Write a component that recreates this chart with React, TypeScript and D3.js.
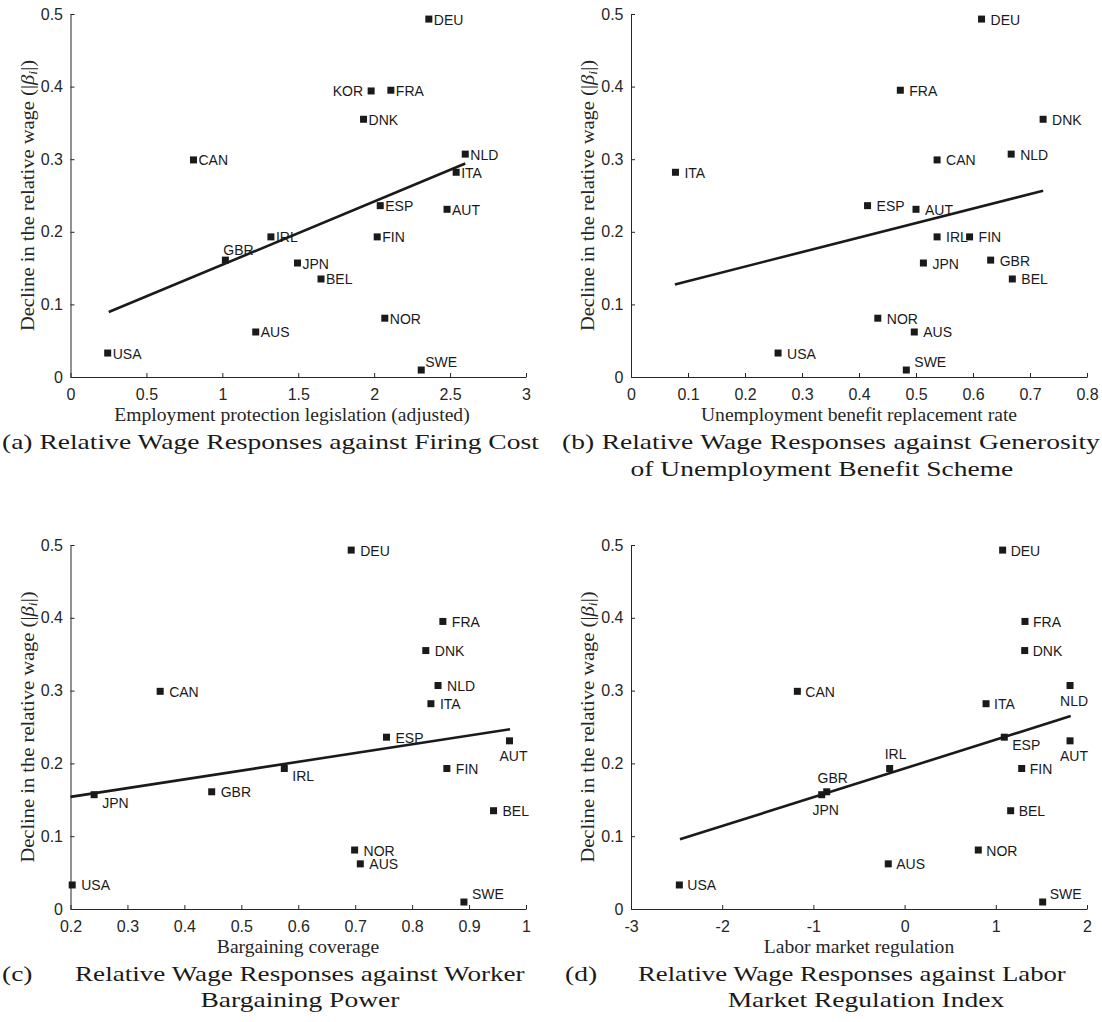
import React, { useEffect, useRef } from "react";
import * as d3 from "d3";

// countries, same order in every series (KOR only has a firing-cost value)
const countries = ["AUS", "AUT", "BEL", "CAN", "DEU", "DNK", "ESP", "FIN", "FRA", "GBR", "IRL", "ITA", "JPN", "KOR", "NLD", "NOR", "SWE", "USA"];
const wageDecline = [0.062, 0.231, 0.135, 0.299, 0.493, 0.355, 0.236, 0.193, 0.395, 0.161, 0.193, 0.282, 0.157, 0.394, 0.307, 0.081, 0.0096, 0.033];
const firingCost = [1.22, 2.48, 1.65, 0.81, 2.36, 1.93, 2.04, 2.02, 2.11, 1.02, 1.32, 2.54, 1.495, 1.98, 2.6, 2.07, 2.31, 0.245];
const benefitRate = [0.497, 0.5, 0.669, 0.537, 0.615, 0.723, 0.415, 0.594, 0.4725, 0.631, 0.537, 0.078, 0.513, null, 0.667, 0.433, 0.483, 0.258];
const bargainingCoverage = [0.709, 0.971, 0.943, 0.3575, 0.693, 0.824, 0.755, 0.861, 0.854, 0.448, 0.5755, 0.833, 0.2415, null, 0.8455, 0.699, 0.891, 0.203];
const laborRegulation = [-0.179, 1.814, 1.163, -1.176, 1.075, 1.317, 1.093, 1.284, 1.32, -0.854, -0.164, 0.893, -0.909, null, 1.814, 0.808, 1.514, -2.47];

// fitted lines (end points)
const fitFiringX = [0.252, 2.6];
const fitFiringY = [0.0895, 0.294];
const fitBenefitX = [0.077, 0.723];
const fitBenefitY = [0.1275, 0.2566];
const fitBargainX = [0.2, 0.972];
const fitBargainY = [0.154, 0.247];
const fitRegX = [-2.463, 1.821];
const fitRegY = [0.0957, 0.265];

const yTicks = [0, 0.1, 0.2, 0.3, 0.4, 0.5];
const xTicksA = [0, 0.5, 1, 1.5, 2, 2.5, 3];
const xTicksB = [0, 0.1, 0.2, 0.3, 0.4, 0.5, 0.6, 0.7, 0.8];
const xTicksC = [0.2, 0.3, 0.4, 0.5, 0.6, 0.7, 0.8, 0.9, 1];
const xTicksD = [-3, -2, -1, 0, 1, 2];

const SANS = "'Liberation Sans', Arial, Helvetica, sans-serif";
const SERIF = "'Liberation Serif', 'Times New Roman', serif";
const INK = "#1a1a1a";
const AXIS = "#262626";

const panels = [
  {
    xs: firingCost, fx: fitFiringX, fy: fitFiringY, ticks: xTicksA,
    left: 70.5, right: 526, top: 14, bottom: 377, gap: 5,
    xLabel: "Employment protection legislation (adjusted)", xLabelX: 292,
    place: { KOR: "l", GBR: "at", SWE: "ar" },
  },
  {
    xs: benefitRate, fx: fitBenefitX, fy: fitBenefitY, ticks: xTicksB,
    left: 631, right: 1087, top: 14, bottom: 377, gap: 9,
    xLabel: "Unemployment benefit replacement rate", xLabelX: 859,
    place: { SWE: "ar" },
  },
  {
    xs: bargainingCoverage, fx: fitBargainX, fy: fitBargainY, ticks: xTicksC,
    left: 70.5, right: 526, top: 545, bottom: 909, gap: 9,
    xLabel: "Bargaining coverage", xLabelX: 298,
    place: { JPN: "br", IRL: "br", AUT: "b", SWE: "ar" },
  },
  {
    xs: laborRegulation, fx: fitRegX, fy: fitRegY, ticks: xTicksD,
    left: 631, right: 1087, top: 545, bottom: 909, gap: 8,
    xLabel: "Labor market regulation", xLabelX: 859,
    place: { NLD: "b", AUT: "b", ESP: "br", IRL: "a", GBR: "a", JPN: "b", SWE: "ar" },
  },
];

// caption lines: "fit" sets the common glyph stretch, "justify" spreads words over a width
const captions = [
  { mode: "fit", x: 2, y: 449, w: 537, text: "(a) Relative Wage Responses against Firing Cost" },
  { mode: "justify", x: 562, y: 449, w: 538, text: "(b) Relative Wage Responses against Generosity" },
  { mode: "center", x: 822, y: 476, text: "of Unemployment Benefit Scheme" },
  { mode: "plain", x: 2, y: 981, text: "(c)" },
  { mode: "justify", x: 75, y: 981, w: 450, text: "Relative Wage Responses against Worker" },
  { mode: "center", x: 300, y: 1007, text: "Bargaining Power" },
  { mode: "plain", x: 565, y: 981, text: "(d)" },
  { mode: "justify", x: 638, y: 981, w: 428, text: "Relative Wage Responses against Labor" },
  { mode: "center", x: 866, y: 1007, text: "Market Regulation Index" },
];

function labelOffset(mode, gap) {
  switch (mode) {
    case "l": return { dx: -8, dy: 5.5, anchor: "end" };
    case "at": return { dx: -2, dy: -5, anchor: "start" };
    case "ar": return { dx: gap - 1, dy: -3, anchor: "start" };
    case "br": return { dx: 8, dy: 13, anchor: "start" };
    case "b": return { dx: 4, dy: 20, anchor: "middle" };
    case "a": return { dx: 6, dy: -9, anchor: "middle" };
    default: return { dx: gap, dy: 5.5, anchor: "start" };
  }
}

export default function App() {
  const svgRef = useRef(null);

  useEffect(() => {
    const svg = d3.select(svgRef.current);
    svg.selectAll("*").remove();

    panels.forEach((p) => {
      const x = d3.scaleLinear().domain([p.ticks[0], p.ticks[p.ticks.length - 1]]).range([p.left, p.right]);
      const y = d3.scaleLinear().domain([0, 0.5]).range([p.bottom, p.top]);
      const g = svg.append("g");

      const xAxis = g.append("g")
        .attr("transform", `translate(0,${p.bottom})`)
        .call(d3.axisBottom(x).tickValues(p.ticks).tickFormat((d) => String(d)).tickSizeInner(-4).tickSizeOuter(0).tickPadding(12));
      const yAxis = g.append("g")
        .attr("transform", `translate(${p.left},0)`)
        .call(d3.axisLeft(y).tickValues(yTicks).tickFormat((d) => String(d)).tickSizeInner(-4).tickSizeOuter(0).tickPadding(7.5));
      [xAxis, yAxis].forEach((a) => {
        a.select(".domain").attr("stroke", AXIS);
        a.selectAll(".tick line").attr("stroke", AXIS);
        a.selectAll("text").attr("fill", AXIS).style("font-family", SANS).style("font-size", "16px");
      });

      const pts = countries
        .map((c, i) => ({ c, xv: p.xs[i], yv: wageDecline[i] }))
        .filter((d) => d.xv !== null);

      g.selectAll("rect.pt").data(pts).enter().append("rect")
        .attr("x", (d) => x(d.xv) - 3.5)
        .attr("y", (d) => y(d.yv) - 3.5)
        .attr("width", 7)
        .attr("height", 7)
        .attr("fill", INK);

      g.selectAll("text.lbl").data(pts).enter().append("text")
        .each(function (d) {
          const o = labelOffset(p.place[d.c], p.gap);
          d3.select(this)
            .attr("x", x(d.xv) + o.dx)
            .attr("y", y(d.yv) + o.dy)
            .attr("text-anchor", o.anchor);
        })
        .style("font-family", SANS)
        .style("font-size", "14px")
        .attr("fill", INK)
        .text((d) => d.c);

      const line = d3.line().x((d) => x(d[0])).y((d) => y(d[1]));
      g.append("path")
        .attr("d", line(p.fx.map((v, i) => [v, p.fy[i]])))
        .attr("stroke", INK)
        .attr("stroke-width", 2.6)
        .attr("fill", "none");

      // x label
      g.append("text")
        .attr("transform", `translate(${p.xLabelX},${p.bottom + 44}) scale(1.06,1)`)
        .attr("text-anchor", "middle")
        .style("font-family", SERIF)
        .style("font-size", "18.5px")
        .attr("fill", AXIS)
        .text(p.xLabel);

      // y label
      const yl = g.append("text")
        .attr("transform", `translate(${p.left - 37},${(p.top + p.bottom) / 2}) rotate(-90) scale(1.08,1)`)
        .attr("text-anchor", "middle")
        .style("font-family", SERIF)
        .style("font-size", "19px")
        .attr("fill", AXIS);
      yl.append("tspan").text("Decline in the relative wage (|");
      yl.append("tspan").attr("font-style", "italic").text("β");
      yl.append("tspan").attr("font-style", "italic").attr("font-size", "13px").attr("dy", 3).text("i");
      yl.append("tspan").attr("dy", -3).text("|)");
    });

    // captions
    const capStyle = (t) => t.style("font-family", SERIF).style("font-size", "22px").attr("fill", INK);
    let k = 1;
    captions.forEach((c) => {
      const t = capStyle(svg.append("text")).text(c.text);
      const w = t.node().getComputedTextLength();
      if (c.mode === "fit") k = c.w / w;
      let sx = k;
      let left = c.x;
      if (c.mode === "center") left = c.x - (w * k) / 2;
      if (c.mode === "justify") {
        const spaces = c.text.split(" ").length - 1;
        const extra = c.w / k - w;
        if (extra >= 0) t.style("word-spacing", `${extra / spaces}px`);
        else sx = c.w / w;
      }
      t.attr("transform", `translate(${left},${c.y}) scale(${sx},1)`);
    });
  }, []);

  return (
    <svg
      ref={svgRef}
      width={1102}
      height={1022}
      style={{ position: "absolute", left: 0, top: 0, background: "#fff" }}
    />
  );
}
